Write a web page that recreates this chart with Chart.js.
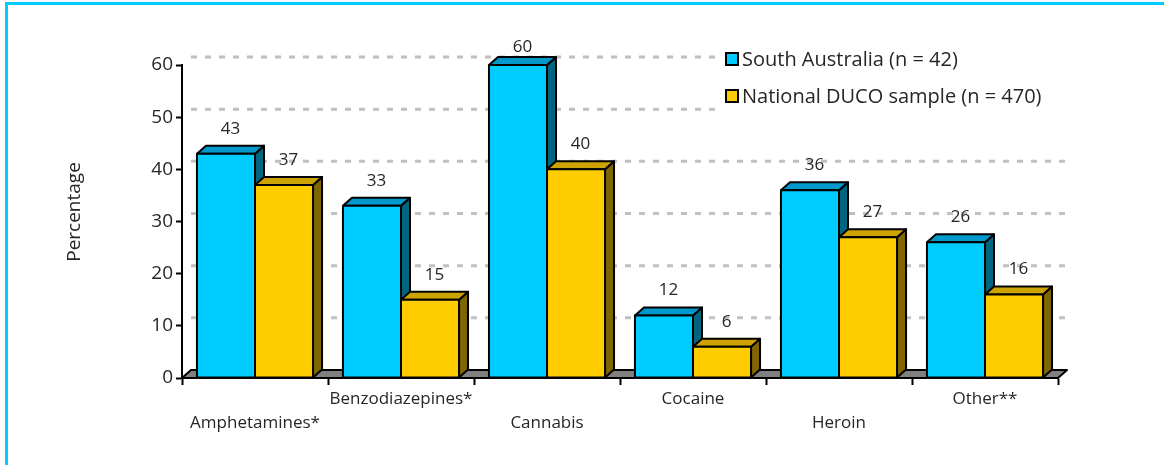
<!DOCTYPE html>
<html>
<head>
<meta charset="utf-8">
<script src="https://cdn.jsdelivr.net/npm/chart.js@4/dist/chart.umd.min.js"></script>
<style>
  html, body { margin: 0; padding: 0; background: #fff; }
  #wrap { position: relative; width: 1164px; height: 465px; overflow: hidden; }
  #frame { position: absolute; left: 5px; top: 2px; width: 1200px; height: 500px;
           border-left: 3px solid #00ccff; border-top: 3px solid #00ccff; pointer-events: none; }
</style>
</head>
<body>
<div id="wrap">
  <canvas id="drugChart" width="1164" height="465"></canvas>
  <div id="frame"></div>
</div>
<script>
const drugs = ['Amphetamines*', 'Benzodiazepines*', 'Cannabis', 'Cocaine', 'Heroin', 'Other**'];
const southAustralia = [43, 33, 60, 12, 36, 26];
const nationalDuco = [37, 15, 40, 6, 27, 16];
const seriesNames = ['South Australia (n = 42)', 'National DUCO sample (n = 470)'];
const yTicks = [0, 10, 20, 30, 40, 50, 60];

// front / top / side shades for the pseudo-3D boxes
const faces = [
  { front: '#00ccff', top: '#0099cc', side: '#006680' },
  { front: '#ffcc00', top: '#cca300', side: '#806600' }
];
const DX = 9, DY = -8;
const FONT = '"Open Sans", "Noto Sans", sans-serif';
const TEXT = '#262626';

function poly(ctx, pts, fill) {
  ctx.beginPath();
  ctx.moveTo(pts[0][0], pts[0][1]);
  for (let i = 1; i < pts.length; i++) ctx.lineTo(pts[i][0], pts[i][1]);
  ctx.closePath();
  ctx.fillStyle = fill;
  ctx.fill();
  ctx.stroke();
}

const boxes3d = {
  id: 'boxes3d',
  beforeDatasetsDraw(chart) {
    const ctx = chart.ctx;
    const { left, right } = chart.chartArea;
    const y = chart.scales.y;
    const base = y.getPixelForValue(0);
    ctx.save();

    // dashed lines on the back wall
    ctx.strokeStyle = '#c0c0c0';
    ctx.lineWidth = 3;
    ctx.setLineDash([6, 8]);
    yTicks.slice(1).forEach(v => {
      const py = y.getPixelForValue(v) + DY;
      ctx.beginPath();
      ctx.moveTo(left + DX, py);
      ctx.lineTo(right + DX, py);
      ctx.stroke();
    });
    ctx.setLineDash([]);

    // legend box sits on the wall and hides the lines behind it
    ctx.fillStyle = '#fff';
    ctx.fillRect(718, 38, 360, 78);

    // floor
    ctx.strokeStyle = '#000';
    ctx.lineWidth = 2;
    ctx.lineJoin = 'round';
    poly(ctx, [[left, base], [left + DX, base + DY], [right + DX, base + DY], [right, base]], '#808080');

    // boxes, one category at a time so the second bar covers the side of the first
    const metas = chart.data.datasets.map((d, i) => chart.getDatasetMeta(i));
    chart.data.labels.forEach((_, idx) => {
      metas.forEach((meta, di) => {
        const bar = meta.data[idx];
        const c = faces[di];
        const x0 = bar.x - bar.width / 2, x1 = bar.x + bar.width / 2;
        const top = bar.y, bot = bar.base;
        poly(ctx, [[x1, top], [x1 + DX, top + DY], [x1 + DX, bot + DY], [x1, bot]], c.side);
        poly(ctx, [[x0, top], [x0 + DX, top + DY], [x1 + DX, top + DY], [x1, top]], c.top);
        poly(ctx, [[x0, top], [x1, top], [x1, bot], [x0, bot]], c.front);
      });
    });
    ctx.restore();
    return false;
  },
  afterDraw(chart) {
    const ctx = chart.ctx;
    ctx.save();
    // value labels above each box
    ctx.font = '17px ' + FONT;
    ctx.fillStyle = TEXT;
    ctx.textAlign = 'center';
    ctx.textBaseline = 'middle';
    chart.data.datasets.forEach((ds, di) => {
      chart.getDatasetMeta(di).data.forEach((bar, i) => {
        const ty = Math.max(bar.y + DY - 17, chart.chartArea.top - 18);
        ctx.fillText(String(ds.data[i]), bar.x + DX / 2, ty);
      });
    });

    // axis title
    ctx.save();
    ctx.translate(75, 212);
    ctx.rotate(-Math.PI / 2);
    ctx.font = '19px ' + FONT;
    ctx.fillText('Percentage', 0, 0);
    ctx.restore();

    // legend
    ctx.font = '20px ' + FONT;
    ctx.textAlign = 'left';
    chart.data.datasets.forEach((ds, di) => {
      const cy = 59 + di * 37;
      ctx.fillStyle = faces[di].front;
      ctx.strokeStyle = '#000';
      ctx.lineWidth = 2;
      ctx.fillRect(726, cy - 6, 12, 12);
      ctx.strokeRect(726, cy - 6, 12, 12);
      ctx.fillStyle = TEXT;
      ctx.fillText(ds.label, 742, cy + 1);
    });
    ctx.restore();
  }
};

new Chart(document.getElementById('drugChart'), {
  type: 'bar',
  data: {
    labels: drugs,
    datasets: [
      { label: seriesNames[0], data: southAustralia, backgroundColor: faces[0].front },
      { label: seriesNames[1], data: nationalDuco, backgroundColor: faces[1].front }
    ]
  },
  options: {
    responsive: false,
    animation: false,
    layout: { padding: { left: 65, right: 106, top: 65, bottom: 0 } },
    datasets: { bar: { categoryPercentage: 0.795, barPercentage: 1 } },
    plugins: { legend: { display: false }, tooltip: { enabled: false } },
    scales: {
      x: {
        afterFit(s) { s.height = 87; },
        border: { display: true, color: '#000', width: 2 },
        grid: { offset: true, drawOnChartArea: false, drawTicks: true, tickLength: 7, tickColor: '#000', tickWidth: 2 },
        ticks: {
          autoSkip: false, maxRotation: 0, padding: 2, color: TEXT,
          font: { family: FONT, size: 17, lineHeight: 1.4 },
          callback: (v, i) => (i % 2 === 0 ? ['', drugs[i]] : [drugs[i]])
        }
      },
      y: {
        min: 0, max: 60,
        afterFit(s) { s.width = 117; },
        afterBuildTicks(s) { s.ticks = yTicks.map(v => ({ value: v })); },
        border: { display: true, color: '#000', width: 2 },
        grid: { drawOnChartArea: false, drawTicks: true, tickLength: 6, tickColor: '#000', tickWidth: 2 },
        ticks: { padding: 3, color: TEXT, font: { family: FONT, size: 19 } }
      }
    }
  },
  plugins: [boxes3d]
});
</script>
</body>
</html>
